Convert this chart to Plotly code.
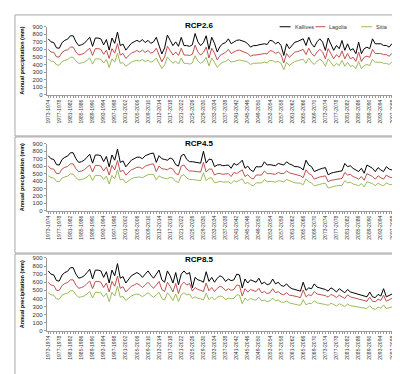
import plotly.graph_objects as go

# ---------------- data ----------------
start_years = list(range(1973, 2099))
categories = [f"{y}-{y+1}" for y in start_years]
tick_labels = categories[::4]

# historical part (1973-1974 ... 2005-2006), shared by all scenarios
hist_kallives = [740, 700, 690, 620, 615, 690, 720, 735, 780, 780, 700, 650, 660, 680, 720, 760, 640,
                 750, 750, 740, 660, 730, 590, 750, 680, 830, 650, 670, 590, 640, 680, 700, 720]
hist_lagolia = [600, 565, 560, 500, 500, 560, 585, 595, 630, 630, 565, 525, 535, 550, 585, 615, 520,
                610, 610, 600, 535, 590, 480, 610, 550, 675, 525, 545, 480, 520, 550, 565, 585]
hist_sitia = [470, 445, 440, 395, 390, 440, 455, 465, 495, 495, 445, 415, 420, 430, 455, 485, 405,
              475, 475, 470, 420, 465, 360, 475, 430, 550, 415, 425, 375, 405, 430, 445, 455]

# projections 2006-2007 ... 2098-2099
rcp26_kallives = [700, 730, 690, 720, 680, 700, 760, 660, 540, 620,
                  790, 720, 650, 700, 640, 760, 650, 650, 640, 660,
                  810, 700, 650, 690, 780,
                  600, 760, 680, 565, 640, 675, 690, 740, 675, 695,
                  720, 725, 710, 700, 674, 630, 650, 650, 660, 665,
                  674, 665, 720, 710, 674, 696, 652, 520, 674, 609,
                  652, 696, 705, 718, 740, 652, 761, 674, 630, 700,
                  740, 696, 587, 750, 674, 587, 652, 609, 718, 587,
                  674, 587, 609, 543, 696, 543, 609, 630, 609, 740,
                  674, 674, 674, 652, 652, 630, 674, 640]
rcp26_lagolia = [565, 590, 560, 585, 550, 565, 615, 535, 435, 500,
                 640, 585, 525, 565, 520, 615, 525, 525, 520, 535,
                 655, 565, 525, 560, 630,
                 485, 615, 550, 460, 520, 545, 560, 600, 545, 565,
                 585, 590, 575, 565, 545, 510, 525, 525, 535, 540,
                 545, 540, 585, 575, 545, 565, 530, 420, 545, 495,
                 530, 565, 570, 580, 600, 530, 615, 545, 510, 565,
                 600, 565, 475, 610, 545, 475, 530, 495, 580, 475,
                 545, 475, 495, 440, 565, 440, 495, 510, 495, 600,
                 545, 545, 545, 530, 530, 510, 545, 520]
rcp26_sitia = [445, 465, 440, 455, 430, 445, 485, 420, 345, 395,
               500, 455, 415, 445, 405, 485, 415, 415, 405, 420,
               515, 445, 415, 440, 495,
               380, 485, 430, 360, 405, 430, 440, 470, 430, 440,
               455, 460, 450, 445, 430, 400, 415, 415, 420, 420,
               430, 420, 455, 450, 430, 440, 415, 330, 430, 385,
               415, 440, 450, 455, 470, 415, 485, 430, 400, 445,
               470, 440, 375, 475, 430, 375, 415, 385, 455, 375,
               430, 375, 385, 345, 440, 345, 385, 400, 385, 470,
               430, 430, 430, 415, 415, 400, 430, 405]

rcp45_kallives = [720, 700, 740, 760, 770, 775, 650, 740, 700, 690,
                  680, 710, 690, 620, 600, 740, 760, 690, 660, 660,
                  655, 650, 640, 800, 640,
                  693, 690, 593, 615, 620, 605, 610, 615, 571, 636,
                  615, 640, 680, 571, 600, 549, 527, 593, 590, 593,
                  658, 615, 620, 615, 605, 636, 620, 615, 658, 630,
                  615, 593, 593, 580, 549, 680, 615, 593, 527, 549,
                  560, 571, 580, 483, 505, 515, 527, 530, 536, 636,
                  593, 605, 570, 549, 527, 571, 505, 615, 590, 571,
                  527, 580, 549, 527, 593, 560, 549, 527]
rcp45_lagolia = [585, 565, 600, 615, 625, 630, 525, 600, 565, 560,
                 550, 575, 560, 500, 485, 600, 615, 560, 535, 535,
                 530, 525, 520, 650, 520,
                 560, 560, 480, 500, 500, 490, 495, 500, 460, 515,
                 500, 520, 550, 460, 485, 445, 425, 480, 480, 480,
                 535, 500, 500, 500, 490, 515, 500, 500, 535, 510,
                 500, 480, 480, 470, 445, 550, 500, 480, 425, 445,
                 455, 460, 470, 390, 410, 415, 425, 430, 435, 515,
                 480, 490, 460, 445, 425, 460, 410, 500, 480, 460,
                 425, 470, 445, 425, 480, 455, 445, 425]
rcp45_sitia = [455, 445, 470, 485, 490, 490, 415, 470, 445, 440,
               430, 450, 440, 395, 380, 470, 485, 440, 420, 420,
               415, 415, 405, 510, 405,
               440, 440, 375, 390, 395, 385, 385, 390, 365, 405,
               390, 405, 430, 365, 380, 350, 335, 375, 375, 375,
               420, 390, 395, 390, 385, 405, 395, 390, 420, 400,
               390, 375, 375, 370, 350, 430, 390, 375, 335, 350,
               355, 365, 370, 305, 320, 325, 335, 335, 340, 405,
               375, 385, 360, 350, 335, 365, 320, 390, 375, 365,
               335, 370, 350, 335, 375, 355, 350, 335]

rcp85_kallives = [700, 660, 700, 740, 690, 650, 700, 750, 630, 600,
                  740, 680, 590, 720, 570, 700, 740, 700, 720, 530,
                  660, 630, 620, 600, 730,
                  610, 660, 600, 650, 680, 660, 610, 640, 620, 630,
                  700, 690, 530, 640, 590, 630, 610, 600, 650, 580,
                  600, 570, 580, 640, 580, 600, 560, 550, 580, 540,
                  520, 510, 500, 490, 600, 500, 530, 520, 580, 540,
                  530, 520, 510, 490, 530, 510, 480, 520, 500, 470,
                  510, 480, 470, 460, 450, 440, 430, 420, 480, 420,
                  410, 450, 430, 520, 420, 440, 460, 470]
rcp85_lagolia = [565, 535, 565, 600, 560, 525, 565, 610, 510, 485,
                 600, 550, 480, 585, 460, 565, 600, 565, 585, 490,
                 535, 510, 500, 485, 590,
                 495, 535, 485, 525, 550, 535, 495, 520, 500, 510,
                 565, 560, 430, 520, 480, 510, 495, 485, 525, 470,
                 485, 460, 470, 520, 470, 485, 455, 445, 470, 440,
                 435, 430, 420, 410, 505, 420, 445, 435, 485, 455,
                 450, 440, 435, 415, 450, 435, 410, 440, 425, 400,
                 445, 420, 410, 400, 390, 385, 375, 365, 415, 365,
                 360, 390, 375, 440, 365, 385, 400, 410]
rcp85_sitia = [445, 420, 445, 470, 440, 415, 445, 475, 400, 380,
               470, 430, 375, 455, 360, 445, 470, 445, 455, 400,
               420, 400, 395, 380, 465,
               385, 420, 380, 415, 430, 420, 385, 405, 395, 400,
               445, 440, 335, 405, 375, 400, 385, 380, 415, 370,
               380, 360, 370, 405, 370, 380, 355, 350, 370, 345,
               335, 325, 320, 315, 385, 320, 340, 335, 370, 345,
               340, 335, 325, 315, 340, 325, 305, 335, 320, 300,
               330, 310, 305, 300, 295, 285, 280, 275, 310, 275,
               265, 290, 280, 320, 275, 285, 300, 305]

scenarios = ["RCP2.6", "RCP4.5", "RCP8.5"]
stations = ["Kallives", "Lagolia", "Sitia"]
colors = {"Kallives": "#000000", "Lagolia": "#c0504d", "Sitia": "#9bbb59"}
series = {
    "RCP2.6": {"Kallives": hist_kallives + rcp26_kallives,
               "Lagolia": hist_lagolia + rcp26_lagolia,
               "Sitia": hist_sitia + rcp26_sitia},
    "RCP4.5": {"Kallives": hist_kallives + rcp45_kallives,
               "Lagolia": hist_lagolia + rcp45_lagolia,
               "Sitia": hist_sitia + rcp45_sitia},
    "RCP8.5": {"Kallives": hist_kallives + rcp85_kallives,
               "Lagolia": hist_lagolia + rcp85_lagolia,
               "Sitia": hist_sitia + rcp85_sitia},
}

# ---------------- layout helpers ----------------
W, H = 400, 374
def px(x):
    return x / W
def py(y):
    return 1 - y / H

panel_y = [(16, 85), (135, 203), (251, 325)]
panel_box = [(4, 127), (128, 246), (247, 371)]
title_y = [15, 135, 253]
x_left, x_right = 37, 388

FONT = "Liberation Sans"
fig = go.Figure()
ticktext = [c if c in tick_labels else "" for c in categories]

layout = dict(
    width=W, height=H, margin=dict(l=0, r=0, t=0, b=0),
    paper_bgcolor="white", plot_bgcolor="white", showlegend=False,
    font=dict(family=FONT, size=6, color="#333333"),
)
shapes = []
annotations = []

for k, scen in enumerate(scenarios):
    n = k + 1
    xa = "x" if n == 1 else f"x{n}"
    ya = "y" if n == 1 else f"y{n}"
    for st in stations:
        fig.add_trace(go.Scatter(
            x=categories, y=series[scen][st], mode="lines", name=st,
            line=dict(color=colors[st], width=1), xaxis=xa, yaxis=ya,
            hoverinfo="skip"))
    top, bot = panel_y[k]
    layout[f"xaxis{n if n > 1 else ''}"] = dict(
        domain=[px(x_left), px(x_right)], anchor=ya, type="category",
        range=[-0.5, len(categories) - 0.5],
        tickmode="array", tickvals=categories, ticktext=ticktext,
        tickangle=-90, tickfont=dict(size=5, family=FONT, color="#333333"),
        ticks="outside", ticklen=2, tickwidth=0.5, tickcolor="#9a9a9a",
        showline=True, linecolor="#9a9a9a", linewidth=1,
        showgrid=False, zeroline=False, fixedrange=True)
    layout[f"yaxis{n if n > 1 else ''}"] = dict(
        domain=[py(bot), py(top)], anchor=xa, range=[0, 900], dtick=100,
        tickfont=dict(size=6, family=FONT, color="#333333"),
        ticks="outside", ticklen=2, tickwidth=0.5, tickcolor="#9a9a9a",
        showline=True, linecolor="#9a9a9a", linewidth=1,
        showgrid=False, zeroline=False, fixedrange=True)
    b0, b1 = panel_box[k]
    shapes.append(dict(type="rect", xref="paper", yref="paper",
                       x0=px(5), x1=px(395), y0=py(b1), y1=py(b0),
                       line=dict(color="#a6a6a6", width=1)))
    annotations.append(dict(text=f"<b>{scen}</b>", xref="paper", yref="paper",
                            x=px(190), y=py(title_y[k]), showarrow=False,
                            xanchor="center", yanchor="middle",
                            font=dict(size=8, family=FONT, color="#000000")))
    annotations.append(dict(text="<b>Annual precipitation (mm)</b>", xref="paper", yref="paper",
                            x=px(12), y=py((top + bot) / 2), showarrow=False, textangle=-90,
                            xanchor="center", yanchor="middle",
                            font=dict(size=5.5, family=FONT, color="#000000")))

legend_items = [("Kallives", 271, 282, 284), ("Lagolia", 307, 317, 319), ("Sitia", 353, 364, 366)]
for name, l0, l1, tx in legend_items:
    shapes.append(dict(type="line", xref="paper", yref="paper",
                       x0=px(l0), x1=px(l1), y0=py(16), y1=py(16),
                       line=dict(color=colors[name], width=1)))
    annotations.append(dict(text=name, xref="paper", yref="paper", x=px(tx), y=py(16),
                            showarrow=False, xanchor="left", yanchor="middle",
                            font=dict(size=5.5, family=FONT, color="#333333")))

layout["shapes"] = shapes
layout["annotations"] = annotations
fig.update_layout(**layout)
fig.write_html("out.html")
